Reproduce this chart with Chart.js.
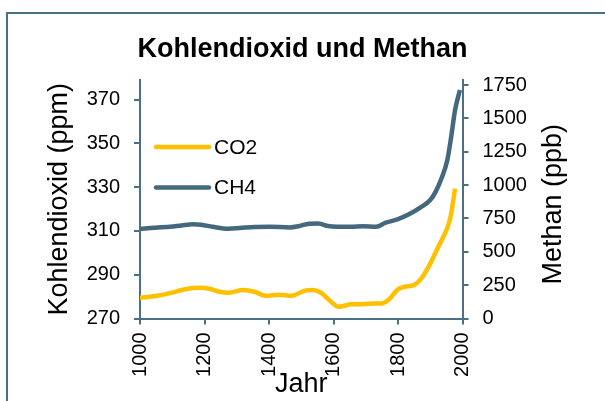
<!DOCTYPE html>
<html>
<head>
<meta charset="utf-8">
<script src="https://cdn.jsdelivr.net/npm/chart.js@4.4.1/dist/chart.umd.min.js"></script>
<style>
  html, body { margin: 0; padding: 0; overflow: hidden; background: #fff; }
  #frame { position: absolute; left: 6px; top: 12px; width: 700px; height: 500px; border: 2px solid #4a6f87; }
  #wrap { position: absolute; left: 0; top: 0; width: 605px; height: 401px; }
</style>
</head>
<body>
<div id="frame"></div>
<div id="wrap"><canvas id="chart"></canvas></div>
<script>
  // values
  const co2Years = [1000, 1050, 1100, 1130, 1165, 1190, 1215, 1250, 1275, 1320, 1355, 1390, 1430, 1470, 1510, 1535, 1560, 1590, 1615, 1630, 1655, 1690, 1725, 1750, 1770, 1800, 1820, 1850, 1870, 1895, 1925, 1953, 1963, 1977];
  const co2Values = [279.5, 280.3, 281.8, 283.0, 283.9, 284.1, 283.6, 282.1, 281.8, 283.0, 282.2, 280.4, 280.9, 280.4, 282.7, 283.0, 281.9, 278.0, 275.4, 275.7, 276.5, 276.5, 276.9, 276.9, 278.4, 283.3, 284.5, 285.3, 287.9, 293.7, 302.8, 311.5, 316.5, 329.4];

  const ch4Years = [1000, 1046, 1094, 1129, 1165, 1189, 1225, 1273, 1309, 1356, 1404, 1464, 1494, 1524, 1553, 1583, 1613, 1654, 1691, 1732, 1762, 1798, 1834, 1870, 1900, 1917, 1935, 1953, 1965, 1977, 1992];
  const ch4Values = [671, 681, 688, 698, 706, 703, 688, 673, 678, 686, 688, 683, 693, 711, 713, 693, 688, 688, 691, 688, 718, 743, 781, 833, 888, 951, 1051, 1188, 1363, 1563, 1713];

  const yearTicks = [1000, 1200, 1400, 1600, 1800, 2000];
  const co2Ticks = [270, 290, 310, 330, 350, 370];
  const ch4Ticks = [0, 250, 500, 750, 1000, 1250, 1500, 1750];

  const axisColor = '#4a6f87';
  const fontFamily = '"Liberation Sans", Arial, sans-serif';
  Chart.defaults.font.family = fontFamily;
  Chart.defaults.color = '#000';

  const toPoints = (xs, ys) => xs.map((x, i) => ({ x: x, y: ys[i] }));
  const setTicks = list => scale => { scale.ticks = list.map(v => ({ value: v })); };
  const plain = v => String(v);

  // legend inside the plot and right axis title (reads bottom to top)
  const extras = {
    id: 'extras',
    afterDatasetsDraw(chart) {
      const { ctx, chartArea } = chart;
      ctx.save();
      chart.data.datasets.forEach((ds, i) => {
        const y = chartArea.top + 67 + i * 40.5;
        const x0 = chartArea.left + 16;
        ctx.strokeStyle = ds.borderColor;
        ctx.lineWidth = 4.5;
        ctx.lineCap = 'round';
        ctx.beginPath();
        ctx.moveTo(x0, y);
        ctx.lineTo(x0 + 53, y);
        ctx.stroke();
        ctx.fillStyle = '#000';
        ctx.font = '21px ' + fontFamily;
        ctx.textBaseline = 'middle';
        ctx.textAlign = 'left';
        ctx.fillText(ds.label, x0 + 58, y + 1);
      });
      const s = chart.scales.y1;
      ctx.translate(s.left + 91, (s.top + s.bottom) / 2 + 5);
      ctx.rotate(-Math.PI / 2);
      ctx.font = '27px ' + fontFamily;
      ctx.textAlign = 'center';
      ctx.textBaseline = 'middle';
      ctx.fillText('Methan (ppb)', 0, 0);
      ctx.restore();
    }
  };

  new Chart(document.getElementById('chart'), {
    type: 'line',
    data: {
      datasets: [{
        label: 'CO2',
        data: toPoints(co2Years, co2Values),
        yAxisID: 'y',
        borderColor: '#ffc000',
        borderWidth: 4.5,
        cubicInterpolationMode: 'monotone',
        pointRadius: 0
      }, {
        label: 'CH4',
        data: toPoints(ch4Years, ch4Values),
        yAxisID: 'y1',
        borderColor: '#44697f',
        borderWidth: 4.5,
        cubicInterpolationMode: 'monotone',
        pointRadius: 0
      }]
    },
    options: {
      responsive: true,
      maintainAspectRatio: false,
      animation: false,
      layout: { padding: 0 },
      plugins: {
        legend: { display: false },
        tooltip: { enabled: false },
        title: {
          display: true,
          text: 'Kohlendioxid und Methan',
          color: '#000',
          font: { size: 27, weight: 'bold' },
          padding: { top: 33, bottom: 14.6 }
        }
      },
      scales: {
        x: {
          type: 'linear',
          min: 1000,
          max: 2000,
          afterBuildTicks: setTicks(yearTicks),
          afterFit: s => { s.height = 82.5; },
          grid: { drawOnChartArea: false, drawTicks: true, tickLength: 6, color: axisColor, lineWidth: 2 },
          border: { color: axisColor, width: 2 },
          ticks: { autoSkip: false, minRotation: 90, maxRotation: 90, padding: 8, font: { size: 20 }, callback: plain },
          title: { display: true, text: 'Jahr', font: { size: 27 }, padding: { top: 0, bottom: 0 } }
        },
        y: {
          position: 'left',
          min: 270,
          max: 379,
          afterBuildTicks: setTicks(co2Ticks),
          afterFit: s => { s.width = 140; },
          grid: { drawOnChartArea: false, drawTicks: true, tickLength: 6, color: axisColor, lineWidth: 2 },
          border: { color: axisColor, width: 2 },
          ticks: { padding: 14, font: { size: 20 }, callback: plain },
          title: { display: true, text: 'Kohlendioxid (ppm)', font: { size: 27 }, padding: { top: 43, bottom: 0 } }
        },
        y1: {
          position: 'right',
          min: 0,
          max: 1788,
          afterBuildTicks: setTicks(ch4Ticks),
          afterFit: s => { s.width = 142.5; },
          grid: { drawOnChartArea: false, drawTicks: true, tickLength: 6, color: axisColor, lineWidth: 2 },
          border: { color: axisColor, width: 2 },
          ticks: { padding: 14, font: { size: 20 }, callback: plain },
          title: { display: false }
        }
      }
    },
    plugins: [extras]
  });
</script>
</body>
</html>
